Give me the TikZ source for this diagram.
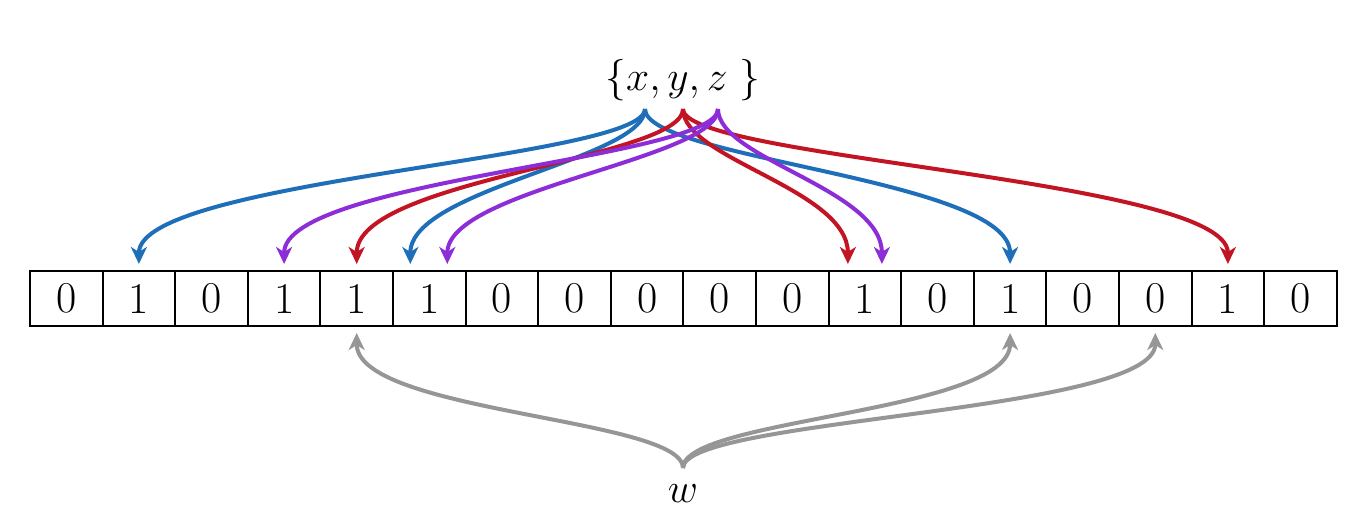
\documentclass[tikz,border=0pt]{standalone}
\usetikzlibrary{arrows.meta}
\definecolor{xblue}{RGB}{30,110,185}
\definecolor{yred}{RGB}{195,20,35}
\definecolor{zpurple}{RGB}{140,45,215}
\definecolor{wgray}{RGB}{150,150,150}
\begin{document}
\begin{tikzpicture}[x=0.5pt,y=-0.5pt,
    cell/.style={draw,line width=1pt,minimum width=36.3pt,minimum height=27.5pt,inner sep=0pt,font=\fontsize{22}{26}\selectfont},
    hash/.style={line width=2pt,-{Stealth[length=8.5pt,width=8pt,inset=2.5pt]}},
    bigtext/.style={font=\fontsize{20}{24}\selectfont}]
    \useasboundingbox (0,0) rectangle (1370,522);

    % the bit array
    \foreach \b [count=\i from 0] in {0,1,0,1,1,1,0,0,0,0,0,1,0,1,0,0,1,0}
        \node[cell] (c\i) at ({66.3+72.6*\i},298.5) {\b};

    % inputs
    \node[bigtext] (set) at (683,80) {$\{x,y,z~\}$};
    \coordinate (sx) at (645,109);
    \coordinate (sy) at (683,109);
    \coordinate (sz) at (718,109);
    \node[bigtext] (w) at (683,494) {$w$};
    \coordinate (sw) at (683,468);

    % x
    \draw[hash,xblue] (sx) .. controls +(0,50) and +(0,-85) .. ([yshift=3pt]c1.north);
    \draw[hash,xblue] (sx) .. controls +(0,50) and +(0,-75) .. ([xshift=-9.5pt,yshift=3pt]c5.north);
    \draw[hash,xblue] (sx) .. controls +(0,50) and +(0,-85) .. ([yshift=3pt]c13.north);
    % y
    \draw[hash,yred] (sy) .. controls +(0,50) and +(0,-85) .. ([yshift=3pt]c4.north);
    \draw[hash,yred] (sy) .. controls +(0,50) and +(0,-75) .. ([xshift=-8.5pt,yshift=3pt]c11.north);
    \draw[hash,yred] (sy) .. controls +(0,50) and +(0,-85) .. ([yshift=3pt]c16.north);
    % z
    \draw[hash,zpurple] (sz) .. controls +(0,50) and +(0,-85) .. ([yshift=3pt]c3.north);
    \draw[hash,zpurple] (sz) .. controls +(0,50) and +(0,-75) .. ([xshift=9pt,yshift=3pt]c5.north);
    \draw[hash,zpurple] (sz) .. controls +(0,50) and +(0,-75) .. ([xshift=8.5pt,yshift=3pt]c11.north);
    % w
    \draw[hash,wgray] (sw) .. controls +(0,-50) and +(0,80) .. ([yshift=-3pt]c4.south);
    \draw[hash,wgray] (sw) .. controls +(0,-50) and +(0,80) .. ([yshift=-3pt]c13.south);
    \draw[hash,wgray] (sw) .. controls +(0,-50) and +(0,80) .. ([yshift=-3pt]c15.south);
\end{tikzpicture}
\end{document}
